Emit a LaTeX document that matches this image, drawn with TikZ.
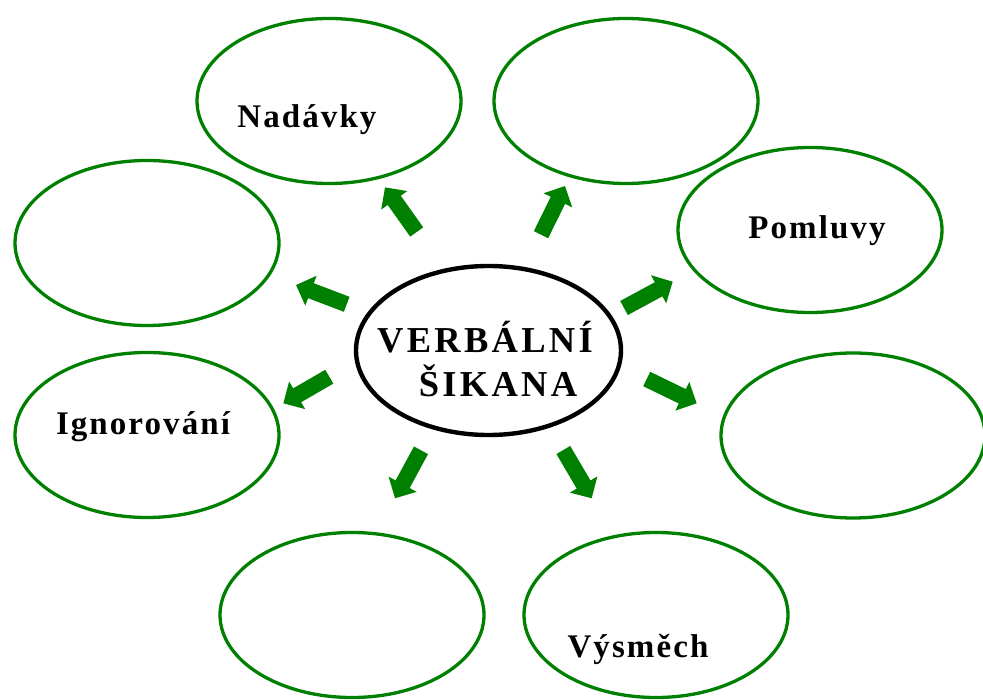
\documentclass[tikz,border=0pt]{standalone}
\usepackage{fontspec}
\setmainfont{Liberation Serif}
\newfontfamily\outerfont[LetterSpace=6.3]{Liberation Serif}
\newfontfamily\centerfont[LetterSpace=9]{Liberation Serif}
\usetikzlibrary{shapes.geometric,arrows.meta}
\definecolor{dgreen}{RGB}{0,128,0}
\tikzset{
  bubble/.style={ellipse, draw=dgreen, line width=3.3pt, minimum width=264pt, minimum height=165pt, inner sep=0pt},
  hub/.style={ellipse, draw=black, line width=4.4pt, minimum width=265pt, minimum height=169pt, inner sep=0pt},
  lab/.style={anchor=base, inner sep=0pt, font=\outerfont\bfseries\fontsize{33pt}{33pt}\selectfont},
  hublab/.style={anchor=base, inner sep=0pt, font=\centerfont\bfseries\fontsize{36.5pt}{36.5pt}\selectfont},
  blockarrow/.style={draw=dgreen, line width=16pt, -{Triangle[width=31pt,length=16pt]}}
}
\begin{document}
\begin{tikzpicture}[x=1pt,y=-1pt]
\useasboundingbox (0,0) rectangle (983,700);
% outer ellipses
\node[bubble] (n1) at (329,101) {};
\node[bubble] (n2) at (626,101) {};
\node[bubble] (n3) at (810,230) {};
\node[bubble] (n4) at (147,243) {};
\node[bubble] (n5) at (147,435) {};
\node[bubble] (n6) at (853,435.5) {};
\node[bubble] (n7) at (352,615) {};
\node[bubble] (n8) at (656,615) {};
% centre
\node[hub] (c) at (488.5,350.5) {};
\node[hublab] (c1) at (485,353) {VERBÁLNÍ};
\node[hublab] (c2) at (498,397) {ŠIKANA};
% labels
\node[lab] (t1) at (307,128) {Nadávky};
\node[lab] (t3) at (817,239) {Pomluvy};
\node[lab] (t5) at (143,435) {Ignorování};
\node[lab] (t8) at (638,657) {Výsměch};
% arrow end points
\coordinate (a1s) at (416.7,232);   \coordinate (a1e) at (385,187.3);
\coordinate (a2s) at (541,234.7);   \coordinate (a2e) at (565,186);
\coordinate (a3s) at (346.7,304.3); \coordinate (a3e) at (296,285);
\coordinate (a4s) at (624,308);     \coordinate (a4e) at (672.7,281.7);
\coordinate (a5s) at (329.3,376.7); \coordinate (a5e) at (283.3,403.3);
\coordinate (a6s) at (646.7,379);   \coordinate (a6e) at (696.7,403.3);
\coordinate (a7s) at (421,450.3);   \coordinate (a7e) at (395,498.3);
\coordinate (a8s) at (563.3,450);   \coordinate (a8e) at (591.7,498.3);
\foreach \i in {1,...,8} {
  \draw[blockarrow] (a\i s) -- (a\i e);
}
\end{tikzpicture}
\end{document}
